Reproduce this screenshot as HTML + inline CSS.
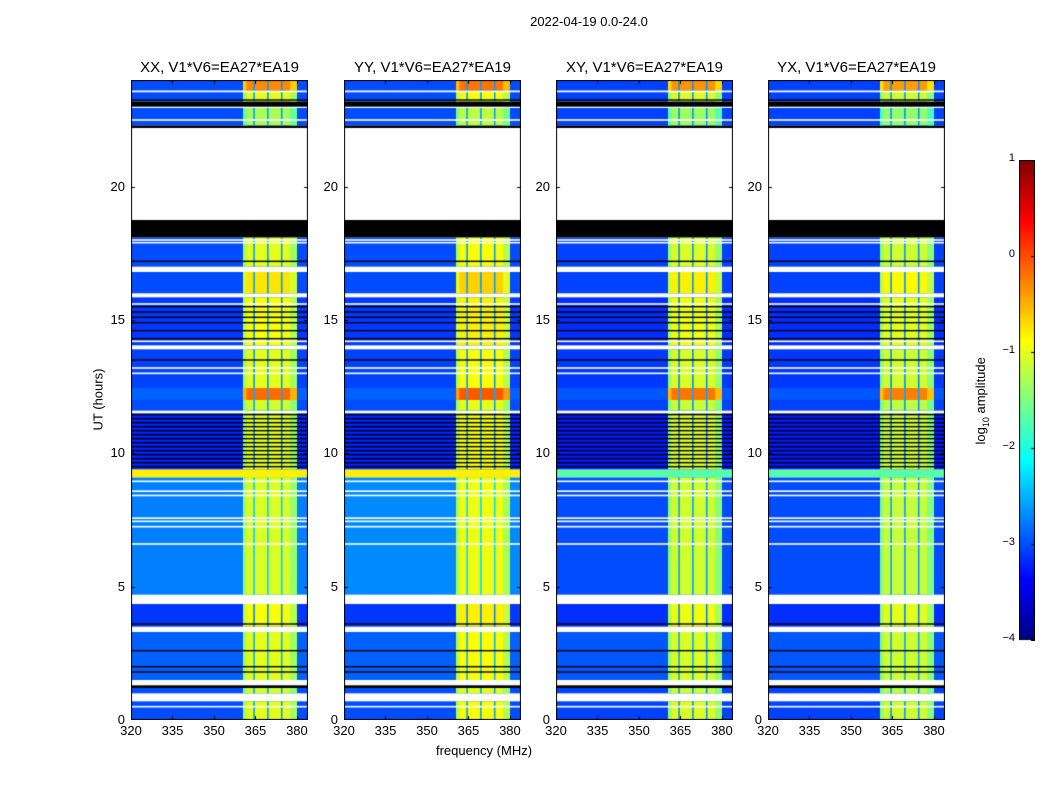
<!DOCTYPE html>
<html><head><meta charset="utf-8">
<style>
body{margin:0;background:#fff;font-family:"Liberation Sans",sans-serif;}
#root{position:relative;width:1050px;height:800px;overflow:hidden;background:#fff}
.t{position:absolute;white-space:nowrap;color:#000}
</style></head>
<body>
<div id="root">
<div class="t" style="left:489px;top:14px;width:200px;text-align:center;font-size:13px">2022-04-19 0.0-24.0</div>
<div class="t" style="left:48px;top:392px;width:100px;text-align:center;font-size:13px;transform:rotate(-90deg)">UT (hours)</div>
<div class="t" style="left:384px;top:743px;width:200px;text-align:center;font-size:13px">frequency (MHz)</div>
<div class="t" style="left:912px;top:392px;width:140px;text-align:center;font-size:13px;transform:rotate(-90deg)">log<sub style="font-size:9px">10</sub> amplitude</div>
<canvas id="cb" width="16" height="481" style="position:absolute;left:1019px;top:160px"></canvas>
</div>
<script>
const panelTitles=["XX, V1*V6=EA27*EA19","YY, V1*V6=EA27*EA19","XY, V1*V6=EA27*EA19","YX, V1*V6=EA27*EA19"];
const panelBgShift=[0,0.0,-0.05,-0.05];
const panelBandShift=[0,0.1,-0.05,-0.1];
const specialRowValue=[-0.8,-0.8,-1.7,-1.7];
const lowRegionBg=[-2.75,-2.7,-3.0,-3.0];
const xTicks=[320,335,350,365,380];
const yTicks=[0,5,10,15,20];
const cbTicks=[1,0,-1,-2,-3,-4];
const segStart=[0,0.7,1.0,1.2,1.3,1.5,3.3,3.5,4.35,4.7,9.1,9.4,11.5,11.6,12.0,12.45,13.9,14.05,15.85,16.0,16.8,17.0,18.1,18.75,22.2,22.3,22.95,23.0,23.2,23.6];
const segEnd=  [0.7,1.0,1.2,1.3,1.5,3.3,3.5,4.35,4.7,9.1,9.4,11.5,11.6,12.0,12.45,13.9,14.05,15.85,16.0,16.8,17.0,18.1,18.75,22.2,22.3,22.95,23.0,23.2,23.6,24];
const segKind= ["d","w","d","k","w","d","w","d","w","l","s","d","w","d","d","d","w","d","w","d","w","d","k","w","k","d","w","k","d","d"];
const segBg=   [-3.0,0,-3.0,0,0,-2.9,0,-3.1,0,0,0,-3.2,0,-3.0,-2.9,-3.05,0,-3.1,0,-3.0,0,-3.0,0,0,0,-3.0,0,0,-3.0,-3.0];
const segBand= [-1.0,0,-1.1,0,0,-1.0,0,-0.9,0,-1.05,0,-1.0,0,-1.1,-0.15,-1.0,0,-0.9,0,-0.75,0,-1.0,0,0,0,-1.3,0,0,-1.0,-0.3];
const whiteLineHours=[0.5,6.6,7.25,7.45,7.57,8.42,8.58,8.95,13.0,13.2,14.2,15.6,17.9,18.0,22.5,23.57];
const blackLineHours=[1.8,2.0,2.6,3.6,9.5,9.65,9.8,9.95,10.1,10.25,10.4,10.55,10.7,10.85,11.0,11.15,11.3,11.45,13.5,14.3,14.6,14.9,15.1,15.3,15.5,17.2,23.25];
const bandStartMHz=360.5, bandEndMHz=380;
const bandLineMHz=[364.5,369.5,374.5];
const panelLeft=[131,344,556,768];
const PT=80,PH=640,PW=177;
const fMin=320,fMax=384,hMin=0,hMax=24,vMin=-4,vMax=1;
function yOf(h){return PH-(h-hMin)/(hMax-hMin)*PH;}
function xOf(f){return (f-fMin)/(fMax-fMin)*PW;}
function jet(v){let t=(v-vMin)/(vMax-vMin);t=Math.max(0,Math.min(1,t));
 const c=x=>Math.round(255*Math.max(0,Math.min(1,1.5-Math.abs(4*t-x))));
 return `rgb(${c(3)},${c(2)},${c(1)})`;}
const root=document.getElementById('root');
function txt(name,s,l,t,w,align,fs){const d=document.createElement('div');d.className='t';
 
 
 d.style.cssText=`left:${l}px;top:${t}px;width:${w}px;text-align:${align};font-size:${fs}px`;d.textContent=s;root.appendChild(d);}
panelLeft.forEach((L,p)=>{
 const cv=document.createElement('canvas');cv.width=PW;cv.height=PH;
 cv.style.cssText=`position:absolute;left:${L}px;top:${PT}px`;
 
 
 root.appendChild(cv);const g=cv.getContext('2d');
 g.fillStyle='#fff';g.fillRect(0,0,PW,PH);
 for(let i=0;i<segStart.length;i++){
  const y0=yOf(segEnd[i]),y1=yOf(segStart[i]);const k=segKind[i];
  if(k==='w')continue;
  if(k==='k'){g.fillStyle='#000';g.fillRect(0,y0,PW,y1-y0);continue;}
  if(k==='s'){g.fillStyle=jet(specialRowValue[p]);g.fillRect(0,y0,PW,y1-y0);continue;}
  const bg=(k==='l'?lowRegionBg[p]:segBg[i]+panelBgShift[p]),bd=segBand[i]+panelBandShift[p];
  g.fillStyle=jet(bg);g.fillRect(0,y0,PW,y1-y0);
  const bx0=xOf(bandStartMHz),bx1=xOf(bandEndMHz);
  g.fillStyle=jet(bd);g.fillRect(bx0,y0,bx1-bx0,y1-y0);
  g.fillStyle=jet(bd-0.35);g.fillRect(bx0,y0,xOf(bandStartMHz+1.2)-bx0,y1-y0);
  g.fillStyle=jet(bd-0.35);g.fillRect(xOf(bandEndMHz-2.5),y0,xOf(bandEndMHz)-xOf(bandEndMHz-2.5),y1-y0);
  g.fillStyle=jet(bg+0.4);
  bandLineMHz.forEach(f=>{g.fillRect(xOf(f)-0.8,y0,1.6,y1-y0);});
 }
 g.fillStyle='#fff';whiteLineHours.forEach(h=>g.fillRect(0,yOf(h)-0.8,PW,1.6));
 g.fillStyle='#000';blackLineHours.forEach(h=>g.fillRect(0,yOf(h)-0.7,PW,1.4));
 g.strokeStyle='#000';g.lineWidth=1;g.strokeRect(0.5,0.5,PW-1,PH-1);
 g.beginPath();
 xTicks.forEach(f=>{const x=Math.round(xOf(f))+0.5;g.moveTo(x,PH);g.lineTo(x,PH-4);g.moveTo(x,0);g.lineTo(x,4);});
 yTicks.forEach(h=>{const y=Math.round(yOf(h))+0.5;g.moveTo(0,y);g.lineTo(4,y);g.moveTo(PW,y);g.lineTo(PW-4,y);});
 g.stroke();
 txt('panel-title-'+(p+1),panelTitles[p],L-20,59,PW+40,'center',15);
 xTicks.forEach(f=>txt('x-tick-label',String(f),L+xOf(f)-20,723,40,'center',13));
 yTicks.forEach(h=>txt('y-tick-label',String(h),L-46,PT+yOf(h)-8,40,'right',13));
});
const cb=document.getElementById('cb').getContext('2d');
for(let y=0;y<480;y++){cb.fillStyle=jet(vMax-(y/480)*(vMax-vMin));cb.fillRect(0,y,16,1);}
cb.strokeStyle='#000';cb.strokeRect(0.5,0.5,15,479);
cb.beginPath();cbTicks.forEach(v=>{const y=Math.round((vMax-v)/(vMax-vMin)*480)+0.5;cb.moveTo(12,y);cb.lineTo(16,y);});cb.stroke();
cbTicks.forEach(v=>txt('colorbar-tick-label',(v<0?'\u2212':'')+Math.abs(v),975,160+(vMax-v)/(vMax-vMin)*480-8,40,'right',11));
</script>
</body></html>
